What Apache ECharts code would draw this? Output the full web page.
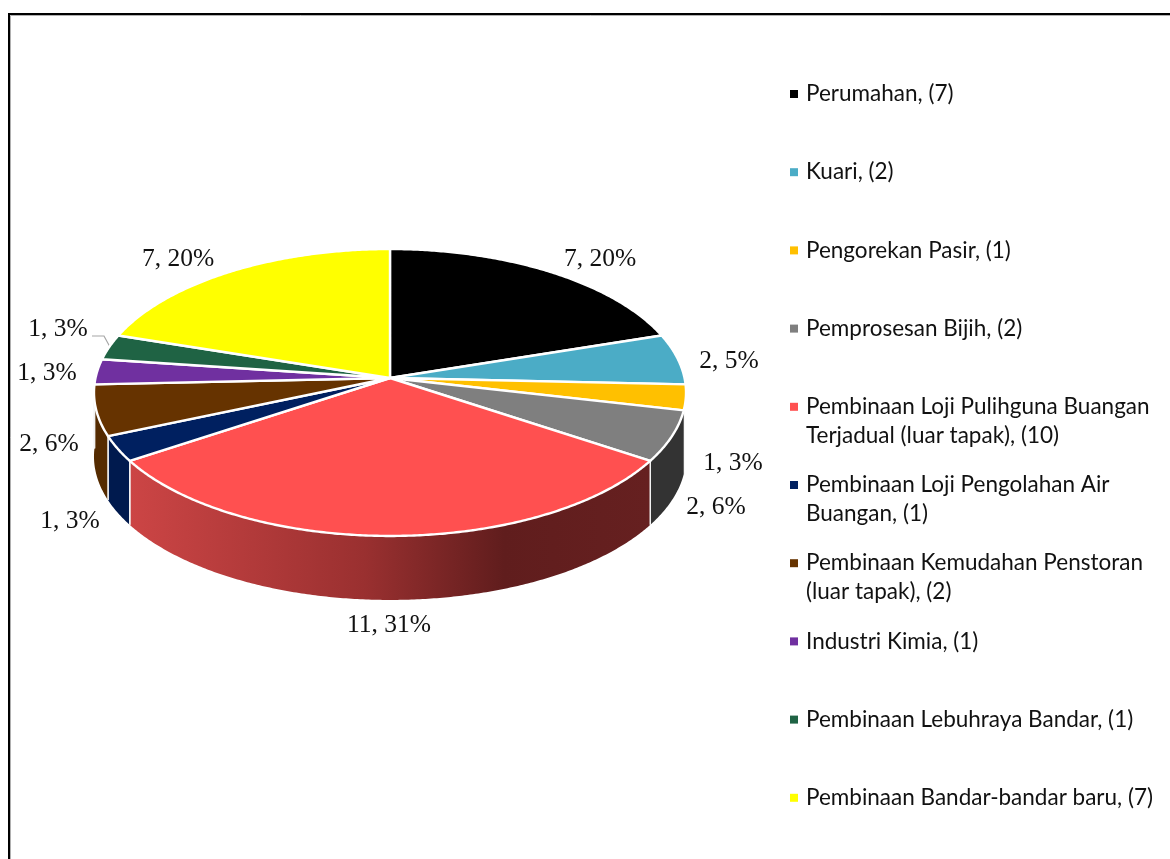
<!DOCTYPE html>
<html>
<head>
<meta charset="utf-8">
<style>html,body{margin:0;padding:0;background:#fff}#c{width:1170px;height:859px}</style>
<script src="https://cdn.jsdelivr.net/npm/echarts@6/dist/echarts.min.js"></script>
</head>
<body>
<div id="c"></div>
<script>
// ---- data ----
const sliceValues = [7, 2, 1, 2, 11, 1, 2, 1, 1, 7];
const slicePercents = [20, 5, 3, 6, 31, 3, 6, 3, 3, 20];
const legendLines = [
  ['Perumahan, (7)'],
  ['Kuari, (2)'],
  ['Pengorekan Pasir, (1)'],
  ['Pemprosesan Bijih, (2)'],
  ['Pembinaan Loji Pulihguna Buangan', 'Terjadual (luar tapak), (10)'],
  ['Pembinaan Loji Pengolahan Air', 'Buangan, (1)'],
  ['Pembinaan Kemudahan Penstoran', '(luar tapak), (2)'],
  ['Industri Kimia, (1)'],
  ['Pembinaan Lebuhraya Bandar, (1)'],
  ['Pembinaan Bandar-bandar baru, (7)']
];
// ---- styles / layout ----
const topColors = ['#000000','#4BACC6','#FFC000','#7F7F7F','#FF5050','#002060','#663300','#7030A0','#1F6344','#FFFF00'];
const wallColors = ['#000000','#2A6070','#8F6C00','#333333',null,'#001A4E','#552B00','#3E1A5A','#113626','#8F8F00'];
const labelAnchors = [[600,259],[729,361],[733,463],[716,507],[389,625],[70,521],[49,444],[47,373],[58,329],[178,259]];
const PIE = {cx: 390, cy: 378, A: 294.5, B: 142, k: 0.101, depth: 64, wallFrom: 102.8, wallTo: 268};
const total = sliceValues.reduce((a, b) => a + b, 0);
const RAD = Math.PI / 180;

function project(deg) {
  const u = Math.sin(deg * RAD), v = -Math.cos(deg * RAD);
  const w = 1 - PIE.k * v;
  return [PIE.cx + PIE.A * u / w, PIE.cy + PIE.B * v / w];
}
function arc(a0, a1, dy) {
  const pts = [], n = Math.max(2, Math.ceil((a1 - a0) / 0.5));
  for (let i = 0; i <= n; i++) {
    const p = project(a0 + (a1 - a0) * i / n);
    pts.push([p[0], p[1] + dy]);
  }
  return pts;
}
function startAngle(i) {
  let s = 0;
  for (let j = 0; j < i; j++) s += sliceValues[j];
  return s / total * 360;
}
const redWall = new echarts.graphic.LinearGradient(130, 0, 650, 0, [
  {offset: 0, color: '#CC4545'},
  {offset: 0.45, color: '#9A3030'},
  {offset: 0.72, color: '#601D1D'},
  {offset: 1, color: '#662020'}
], true);

function makeRender(i) {
  return function (params, api) {
    const a0 = startAngle(i);
    const a1 = a0 + api.value(0) / total * 360;
    const children = [];
    const w0 = Math.max(a0, PIE.wallFrom), w1 = Math.min(a1, PIE.wallTo);
    if (w1 > w0) {
      const poly = arc(w0, w1, 0).concat(arc(w0, w1, PIE.depth).reverse());
      children.push({type: 'polygon', shape: {points: poly},
        style: {fill: wallColors[i] || redWall}});
      [[w0, a0 >= PIE.wallFrom], [w1, a1 <= PIE.wallTo]].forEach(function (e) {
        if (!e[1] || i === 3 && e[0] === w0) return;
        const p = project(e[0]);
        children.push({type: 'line', shape: {x1: p[0], y1: p[1], x2: p[0], y2: p[1] + PIE.depth},
          style: {stroke: '#F2F2F2', lineWidth: 1.5}});
      });
    }
    const top = [[PIE.cx, PIE.cy]].concat(arc(a0, a1, 0));
    children.push({type: 'polygon', z2: 5, shape: {points: top},
      style: {fill: topColors[i], stroke: '#FFFFFF', lineWidth: 2.4, lineJoin: 'round'}});
    children.push({type: 'text', z2: 10, style: {
      text: api.value(0) + ', ' + slicePercents[i] + '%',
      x: labelAnchors[i][0], y: labelAnchors[i][1],
      align: 'center', verticalAlign: 'middle',
      fill: '#111111', font: '25.5px "Liberation Serif", serif'}});
    return {type: 'group', children: children};
  };
}

const legendName = l => l.join(' ');
const chart = echarts.init(document.getElementById('c'), null, {renderer: 'canvas'});
chart.setOption({
  animation: false,
  backgroundColor: '#fff',
  legend: {
    orient: 'vertical', left: 790, top: 50.5,
    icon: 'rect', itemWidth: 8, itemHeight: 8, itemGap: -8.8,
    selectedMode: false, padding: 0,
    data: legendLines.map(legendName),
    textStyle: {fontFamily: 'Lato, sans-serif', fontSize: 22.5, color: '#111111', lineHeight: 29, padding: [0, 0, 0, 3]},
    formatter: function (name) {
      const l = legendLines.find(x => legendName(x) === name);
      return ' \n' + l[0] + '\n' + (l[1] || ' ');
    }
  },
  graphic: [
    {type: 'polyline', shape: {points: [[10.5, 900], [10.5, 15.5], [1200, 15.5]]},
      style: {stroke: '#B0B0B0', lineWidth: 1, fill: null}},
    {type: 'polyline', shape: {points: [[9, 900], [9, 14], [1200, 14]]},
      style: {stroke: '#000', lineWidth: 2, fill: null}},
    {type: 'polyline', shape: {points: [[92, 336], [104, 336], [110, 347]]},
      style: {stroke: '#A6A6A6', lineWidth: 1.2, fill: null}}
  ],
  series: sliceValues.map(function (v, i) {
    return {
      type: 'custom', name: legendName(legendLines[i]),
      coordinateSystem: 'none',
      itemStyle: {color: topColors[i]},
      data: [[v]],
      silent: true,
      renderItem: makeRender(i)
    };
  })
});
</script>
</body>
</html>
